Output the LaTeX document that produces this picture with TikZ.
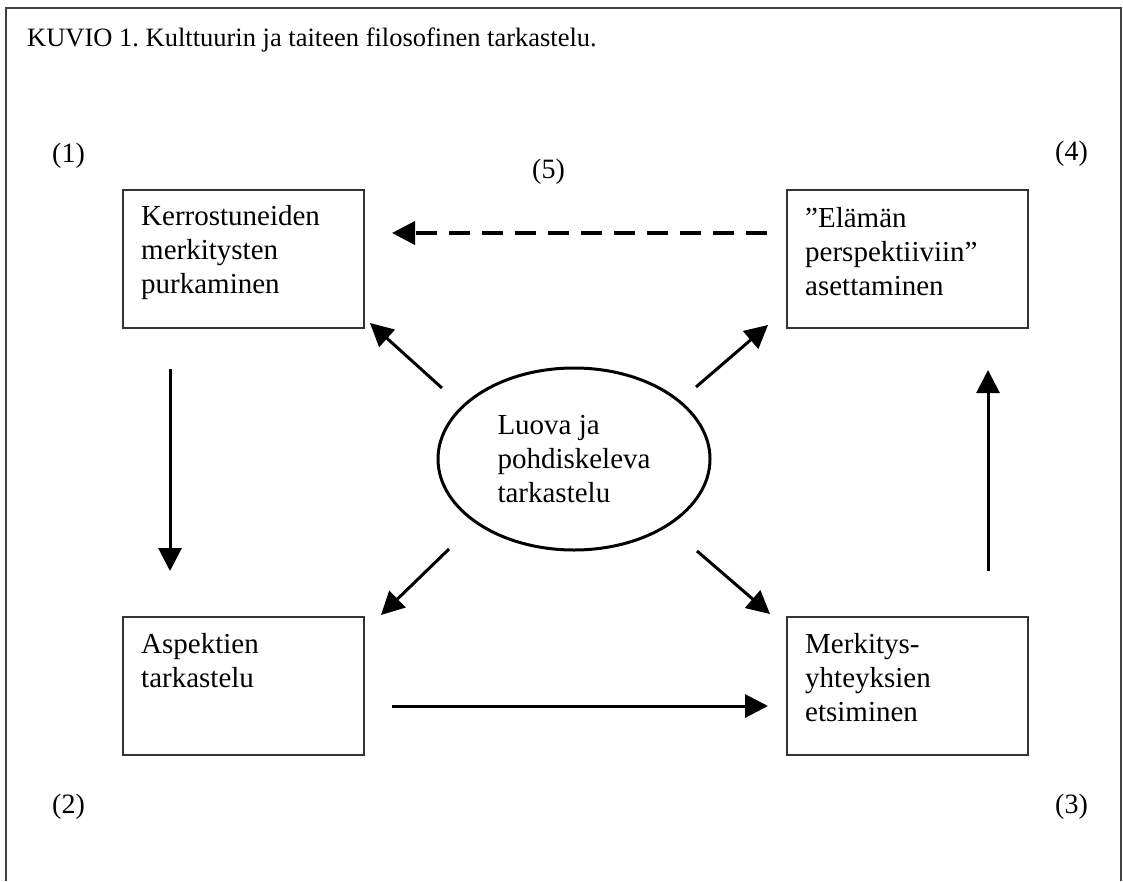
\documentclass[tikz,border=0pt]{standalone}
\usepackage{fontspec}
\setmainfont{Liberation Serif}
\usetikzlibrary{arrows.meta,shapes.geometric}
\frenchspacing
\begin{document}
\begin{tikzpicture}[x=1pt,y=-1pt,
  boxst/.style={draw=black!80,line width=2pt,minimum width=241pt,minimum height=138pt,inner sep=0pt,anchor=north west},
  txt/.style={anchor=base west,inner sep=0pt,align=left,font=\fontsize{29}{34}\selectfont},
  lab/.style={anchor=base west,inner sep=0pt,font=\fontsize{28}{32}\selectfont},
  arr/.style={line width=3pt,-{Triangle[length=23pt,width=23pt]}},
]
\useasboundingbox (0,0) rectangle (1123,881);
\fill[white] (0,0) rectangle (1123,881);
% frame
\draw[black!75,line width=2.5pt] (6,881) -- (6,8) -- (1121,8) -- (1121,881);
% title
\node[anchor=base west,inner sep=0pt,font=\fontsize{26.5}{32}\selectfont\frenchspacing] (title) at (27,46) {KUVIO 1. Kulttuurin ja taiteen filosofinen tarkastelu.};
% corner labels
\node[lab] (l1) at (52,162) {(1)};
\node[lab] (l4) at (1055,160) {(4)};
\node[lab] (l5) at (532,178) {(5)};
\node[lab] (l2) at (52,813) {(2)};
\node[lab] (l3) at (1055,813) {(3)};
% boxes
\node[boxst] (b1) at (122,189) {};
\node[boxst] (b4) at (786,189) {};
\node[boxst] (b2) at (122,616) {};
\node[boxst] (b3) at (786,616) {};
% multi-line text: base anchor = baseline of last line
\node[txt] (t1) at (141,293) {Kerrostuneiden\\merkitysten\\purkaminen};
\node[txt] (t4) at (805,295) {”Elämän\\perspektiiviin”\\asettaminen};
\node[txt] (t2) at (141,687) {Aspektien\\tarkastelu};
\node[txt] (t3) at (805,721) {Merkitys-\\yhteyksien\\etsiminen};
% ellipse
\node[ellipse,draw,line width=3pt,minimum width=272pt,minimum height=182pt,inner sep=0pt,align=left,font=\fontsize{29}{34}\selectfont] (ell) at (574,459) {Luova ja\\pohdiskeleva\\tarkastelu};
% arrow end points
\coordinate (ulS) at (442,388); \coordinate (ulE) at (370,323);
\coordinate (urS) at (696,387); \coordinate (urE) at (768,325);
\coordinate (llS) at (449,549); \coordinate (llE) at (381,615);
\coordinate (lrS) at (697,551); \coordinate (lrE) at (770,614);
\coordinate (dS) at (170,369); \coordinate (dE) at (170,571);
\coordinate (uS) at (988,571); \coordinate (uE) at (988,370);
\coordinate (hS) at (392,706); \coordinate (hE) at (768,706);
\coordinate (dashS) at (767,233); \coordinate (dashE) at (392,233);
% arrows
\draw[arr] (ulS) -- (ulE);
\draw[arr] (urS) -- (urE);
\draw[arr] (llS) -- (llE);
\draw[arr] (lrS) -- (lrE);
\draw[arr] (dS) -- (dE);
\draw[arr] (uS) -- (uE);
\draw[arr] (hS) -- (hE);
\draw[line width=4pt,dash pattern=on 21pt off 12pt,-{Triangle[length=23pt,width=23pt]}] (dashS) -- (dashE);
\end{tikzpicture}
\end{document}
